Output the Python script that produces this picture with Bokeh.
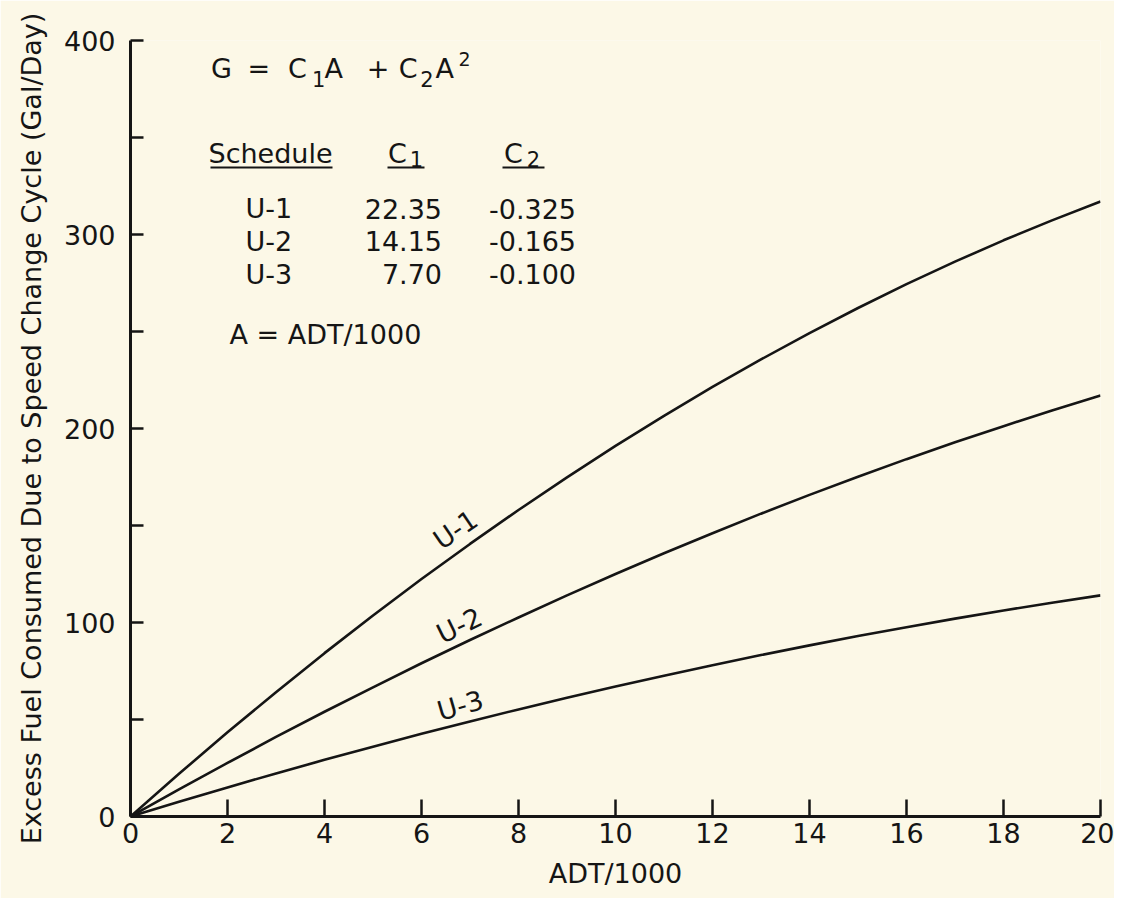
from bokeh.plotting import figure
from bokeh.models import FixedTicker, Label
from bokeh.embed import file_html
from bokeh.resources import INLINE

# ---- data ----
adt = list(range(21))  # ADT/1000
u1 = [0, 22.0, 43.4, 64.1, 84.2, 103.6, 122.4, 140.5, 158.0, 174.8, 191.0,
      206.5, 221.4, 235.6, 249.2, 262.1, 274.4, 286.0, 297.0, 307.3, 317.0]
u2 = [0, 14.0, 27.6, 41.0, 54.0, 66.6, 79.0, 91.0, 102.6, 114.0, 125.0,
      135.7, 146.0, 156.1, 165.8, 175.1, 184.2, 192.9, 201.2, 209.3, 217.0]
u3 = [0, 7.6, 15.0, 22.2, 29.2, 36.0, 42.6, 49.0, 55.2, 61.2, 67.0,
      72.6, 78.0, 83.2, 88.2, 93.0, 97.6, 102.0, 106.2, 110.2, 114.0]
x_ticks = [0, 2, 4, 6, 8, 10, 12, 14, 16, 18, 20]
y_ticks = [0, 100, 200, 300, 400]
y_minor = [50, 150, 250, 350]
schedules = ["U-1", "U-2", "U-3"]
c1_vals = ["22.35", "14.15", "7.70"]
c2_vals = ["-0.325", "-0.165", "-0.100"]

BG = "#fcf8e7"
INK = "#151515"
FONT = "DejaVu Sans"

p = figure(width=1114, height=898, x_range=(0, 20), y_range=(0, 400),
           output_backend="svg", toolbar_location=None,
           min_border_left=130, min_border_right=14, min_border_top=40,
           min_border_bottom=82,
           background_fill_color=BG, border_fill_color=BG,
           outline_line_color=None)
p.grid.visible = False

for ser in (u1, u2, u3):
    p.line(adt, ser, line_width=2.6, line_color=INK)

xa = p.xaxis[0]
xa.ticker = FixedTicker(ticks=x_ticks)
ya = p.yaxis[0]
ya.ticker = FixedTicker(ticks=y_ticks, minor_ticks=y_minor)
for ax in (xa, ya):
    ax.axis_line_width = 3
    ax.axis_line_color = INK
    ax.major_tick_line_width = 2.5
    ax.major_tick_line_color = INK
    ax.minor_tick_line_width = 2.5
    ax.minor_tick_line_color = INK
    ax.major_tick_out = 0
    ax.minor_tick_out = 0
    ax.major_label_text_font = FONT
    ax.major_label_text_font_size = "27px"
    ax.major_label_text_color = INK
    ax.axis_label_text_font = FONT
    ax.axis_label_text_font_size = "27px"
    ax.axis_label_text_font_style = "normal"
    ax.axis_label_text_color = INK
xa.major_tick_in = 17
xa.minor_tick_in = 0
xa.major_label_standoff = 6
xa.axis_label = "ADT/1000"
xa.axis_label_standoff = 12
ya.major_tick_in = 13
ya.minor_tick_in = 13
ya.major_label_standoff = 15
ya.axis_label = "Excess Fuel Consumed Due to Speed Change Cycle (Gal/Day)"
ya.axis_label_standoff = 14


def txt(x, y, s, size="27px", align="left", baseline="alphabetic", angle=0.0):
    p.add_layout(Label(x=x, y=y, text=s, text_font=FONT, text_font_size=size,
                       text_color=INK, text_align=align, text_baseline=baseline,
                       angle=angle))


# formula G = C1 A + C2 A^2
base_g = 385.6
sub_g = 380.4
txt(1.660, base_g, "G")
txt(2.412, base_g, "=")
txt(3.247, base_g, "C")
txt(3.740, sub_g, "1", size="21px")
txt(4.000, base_g, "A")
txt(4.870, base_g, "+")
txt(5.530, base_g, "C")
txt(5.975, sub_g, "2", size="21px")
txt(6.289, base_g, "A")
txt(6.763, 390.7, "2", size="19px")

# table header
base_h = 341.8
sub_h = 338.7
txt(1.608, base_h, "Schedule")
txt(5.309, base_h, "C")
txt(5.760, sub_h, "1", size="21px")
txt(7.701, base_h, "C")
txt(8.170, sub_h, "2", size="21px")
p.segment(x0=[1.649, 5.299, 7.670], y0=[334.5, 334.5, 334.5],
          x1=[4.165, 6.062, 8.536], y1=[334.5, 334.5, 334.5],
          line_width=2, line_color=INK)

row_y = [313.4, 296.4, 279.4]
for yy, s, a, b in zip(row_y, schedules, c1_vals, c2_vals):
    txt(2.371, yy, s)
    txt(6.423, yy, a, align="right")
    txt(9.186, yy, b, align="right")

txt(2.041, 248.5, "A  =  ADT/1000")

# curve labels
txt(6.70, 147.9, "U-1", align="center", baseline="middle", angle=0.593)
txt(6.78, 98.5, "U-2", align="center", baseline="middle", angle=0.454)
txt(6.80, 57.2, "U-3", align="center", baseline="middle", angle=0.279)

open("out.html", "w").write(file_html(p, INLINE))
